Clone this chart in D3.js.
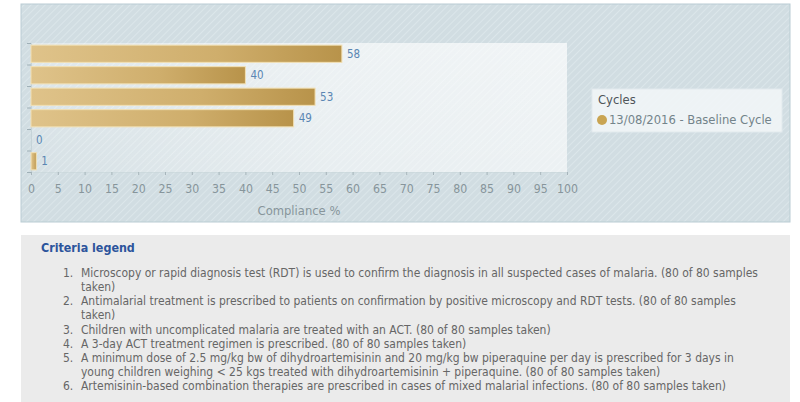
<!DOCTYPE html>
<html>
<head>
<meta charset="utf-8">
<script src="https://cdn.jsdelivr.net/npm/d3@7"></script>
<style>
  html, body { margin: 0; padding: 0; background: #ffffff; }
  svg { display: block; }
</style>
</head>
<body>
<svg id="chart" width="800" height="402"></svg>
<script>
// ---------- data ----------
const categories = ["1", "2", "3", "4", "5", "6"];
const compliance = [58, 40, 53, 49, 0, 1];
const xTickValues = [0, 5, 10, 15, 20, 25, 30, 35, 40, 45, 50, 55, 60, 65, 70, 75, 80, 85, 90, 95, 100];
const xAxisTitle = "Compliance %";
const legendTitle = "Cycles";
const seriesName = "13/08/2016 - Baseline Cycle";
const criteriaTitle = "Criteria legend";
const criteriaLines = [
  ["1.", "Microscopy or rapid diagnosis test (RDT) is used to confirm the diagnosis in all suspected cases of malaria. (80 of 80 samples"],
  ["", "taken)"],
  ["2.", "Antimalarial treatment is prescribed to patients on confirmation by positive microscopy and RDT tests. (80 of 80 samples"],
  ["", "taken)"],
  ["3.", "Children with uncomplicated malaria are treated with an ACT. (80 of 80 samples taken)"],
  ["4.", "A 3-day ACT treatment regimen is prescribed. (80 of 80 samples taken)"],
  ["5.", "A minimum dose of 2.5 mg/kg bw of dihydroartemisinin and 20 mg/kg bw piperaquine per day is prescribed for 3 days in"],
  ["", "young children weighing < 25 kgs treated with dihydroartemisinin + piperaquine. (80 of 80 samples taken)"],
  ["6.", "Artemisinin-based combination therapies are prescribed in cases of mixed malarial infections. (80 of 80 samples taken)"]
];

// ---------- setup ----------
const FONT = "'DejaVu Sans Condensed', 'DejaVu Sans', Verdana, sans-serif";
const svg = d3.select("#chart");
const defs = svg.append("defs");

// hatch pattern
const hatch = defs.append("pattern")
  .attr("id", "hatch").attr("patternUnits", "userSpaceOnUse")
  .attr("width", 5).attr("height", 5)
  .attr("patternTransform", "rotate(45)");
hatch.append("rect").attr("width", 5).attr("height", 5).attr("fill", "#d1dde2");
hatch.append("line").attr("x1", 0).attr("y1", 0).attr("x2", 0).attr("y2", 5)
  .attr("stroke", "#dde7eb").attr("stroke-width", 1.8);

// plot area gradient
const pg = defs.append("linearGradient").attr("id", "plotGrad")
  .attr("x1", "0%").attr("y1", "0%").attr("x2", "100%").attr("y2", "0%");
pg.append("stop").attr("offset", "0%").attr("stop-color", "#ffffff").attr("stop-opacity", 0.1);
pg.append("stop").attr("offset", "55%").attr("stop-color", "#ffffff").attr("stop-opacity", 0.5);
pg.append("stop").attr("offset", "100%").attr("stop-color", "#ffffff").attr("stop-opacity", 0.6);

const pgv = defs.append("linearGradient").attr("id", "plotGradV")
  .attr("x1", "0%").attr("y1", "0%").attr("x2", "0%").attr("y2", "100%");
pgv.append("stop").attr("offset", "0%").attr("stop-color", "#ffffff").attr("stop-opacity", 0.25);
pgv.append("stop").attr("offset", "100%").attr("stop-color", "#ffffff").attr("stop-opacity", 0.0);

// bar gradient
const bg = defs.append("linearGradient").attr("id", "barGrad")
  .attr("x1", "0%").attr("y1", "0%").attr("x2", "100%").attr("y2", "0%");
bg.append("stop").attr("offset", "0%").attr("stop-color", "#dfc38a");
bg.append("stop").attr("offset", "60%").attr("stop-color", "#cfae6c");
bg.append("stop").attr("offset", "100%").attr("stop-color", "#b8934a");

// ---------- panels ----------
svg.append("rect").attr("x", 21).attr("y", 4).attr("width", 769).attr("height", 218)
  .attr("fill", "url(#hatch)").attr("stroke", "#b9ccd3").attr("stroke-width", 1);

svg.append("rect").attr("x", 21).attr("y", 235).attr("width", 769).attr("height", 170)
  .attr("fill", "#ebebeb");

// ---------- scales ----------
const plot = { left: 31, right: 567, top: 43, bottom: 172 };
const x = d3.scaleLinear().domain([0, 100]).range([plot.left, plot.right]);
const y = d3.scaleBand().domain(categories).range([plot.top, plot.bottom]).paddingInner(0.2).paddingOuter(0.1);
const yEdges = d3.scaleLinear().domain([0, categories.length]).range([plot.top, plot.bottom]);

// plot background
svg.append("rect").attr("x", plot.left).attr("y", plot.top)
  .attr("width", plot.right - plot.left).attr("height", plot.bottom - plot.top)
  .attr("fill", "url(#plotGrad)");
svg.append("rect").attr("x", plot.left).attr("y", plot.top)
  .attr("width", plot.right - plot.left).attr("height", plot.bottom - plot.top)
  .attr("fill", "url(#plotGradV)");

// y axis (edge ticks only)
const yAxis = d3.axisLeft(yEdges).tickValues(d3.range(categories.length + 1)).tickFormat("").tickSize(4);
const gy = svg.append("g").attr("transform", `translate(${plot.left},0)`).call(yAxis);
gy.select(".domain").attr("stroke", "#c5d3d8");
gy.selectAll(".tick line").attr("stroke", "#9fb0b7");

// x axis
const xAxis = d3.axisBottom(x).tickValues(xTickValues).tickSize(3).tickPadding(9);
const gx = svg.append("g").attr("transform", `translate(0,${plot.bottom})`).call(xAxis);
gx.select(".domain").attr("stroke", "#c9d6da").attr("stroke-width", 0.6);
gx.selectAll(".tick line").attr("stroke", "#a7b5bb");
gx.selectAll(".tick text").attr("fill", "#87959b").attr("font-family", FONT).attr("font-size", 11);

// axis title
const xt = svg.append("text").attr("x", (plot.left + plot.right) / 2).attr("y", 215)
  .attr("text-anchor", "middle").attr("fill", "#87959b")
  .attr("font-family", FONT).attr("font-size", 11).text(xAxisTitle);

// bars
const data = categories.map((c, i) => ({ c, v: compliance[i] }));
svg.append("g").selectAll("rect").data(data.filter(d => d.v > 0)).join("rect")
  .attr("x", x(0)).attr("y", d => y(d.c))
  .attr("width", d => x(d.v) - x(0)).attr("height", y.bandwidth())
  .attr("fill", "url(#barGrad)").attr("stroke", "#f2e0b3").attr("stroke-width", 1);

svg.append("g").selectAll("text").data(data).join("text")
  .attr("x", d => x(d.v) + 5).attr("y", d => y(d.c) + y.bandwidth() / 2 + 4)
  .attr("fill", "#5a86b3").attr("font-family", FONT).attr("font-size", 11.5)
  .text(d => d.v);

// legend
const lg = svg.append("g");
lg.append("rect").attr("x", 592).attr("y", 89).attr("width", 190).attr("height", 43)
  .attr("fill", "#f1f5f7").attr("fill-opacity", 0.9).attr("stroke", "#e2eaed");
const lt = lg.append("text").attr("x", 598).attr("y", 104).attr("fill", "#4f5559")
  .attr("font-family", FONT).attr("font-size", 11).attr("font-weight", "normal").text(legendTitle);
lg.append("circle").attr("cx", 602).attr("cy", 120).attr("r", 5).attr("fill", "#c9a452");
const li = lg.append("text").attr("x", 609).attr("y", 124).attr("fill", "#73838a")
  .attr("font-family", FONT).attr("font-size", 11).text(seriesName);

// criteria legend
const ct = svg.append("text").attr("x", 41).attr("y", 252).attr("fill", "#2c549c")
  .attr("font-family", FONT).attr("font-size", 12).attr("font-weight", "bold").text(criteriaTitle);

const lineY = d3.scaleLinear().domain([0, criteriaLines.length - 1]).range([273, 386]);
const listG = svg.append("g");
const nums = listG.selectAll("text.num").data(criteriaLines).join("text").attr("class", "num")
  .attr("x", 63).attr("y", (d, i) => lineY(i) + 4)
  .attr("fill", "#666666").attr("font-family", FONT).attr("font-size", 11)
  .text(d => d[0]);
const lines = listG.selectAll("text.line").data(criteriaLines).join("text").attr("class", "line")
  .attr("x", 81).attr("y", (d, i) => lineY(i) + 4)
  .attr("fill", "#666666").attr("font-family", FONT).attr("font-size", 11)
  .text(d => d[1]);

// fit font sizes to measured widths in the reference
function fit(sel, node, target, base) {
  const w = node.getComputedTextLength();
  if (w > 0) {
    const s = Math.max(8, Math.min(13, base * target / w));
    sel.attr("font-size", s);
  }
}
fit(lines, lines.nodes()[0], 677, 11);
nums.attr("font-size", lines.attr("font-size"));
fit(ct, ct.node(), 94, 12);
fit(xt, xt.node(), 83, 11);
fit(li, li.node(), 163, 11);
lt.attr("font-size", li.attr("font-size"));
const tickTexts = gx.selectAll(".tick text");
fit(tickTexts, tickTexts.nodes()[tickTexts.size() - 1], 21, 11);
</script>
</body>
</html>
